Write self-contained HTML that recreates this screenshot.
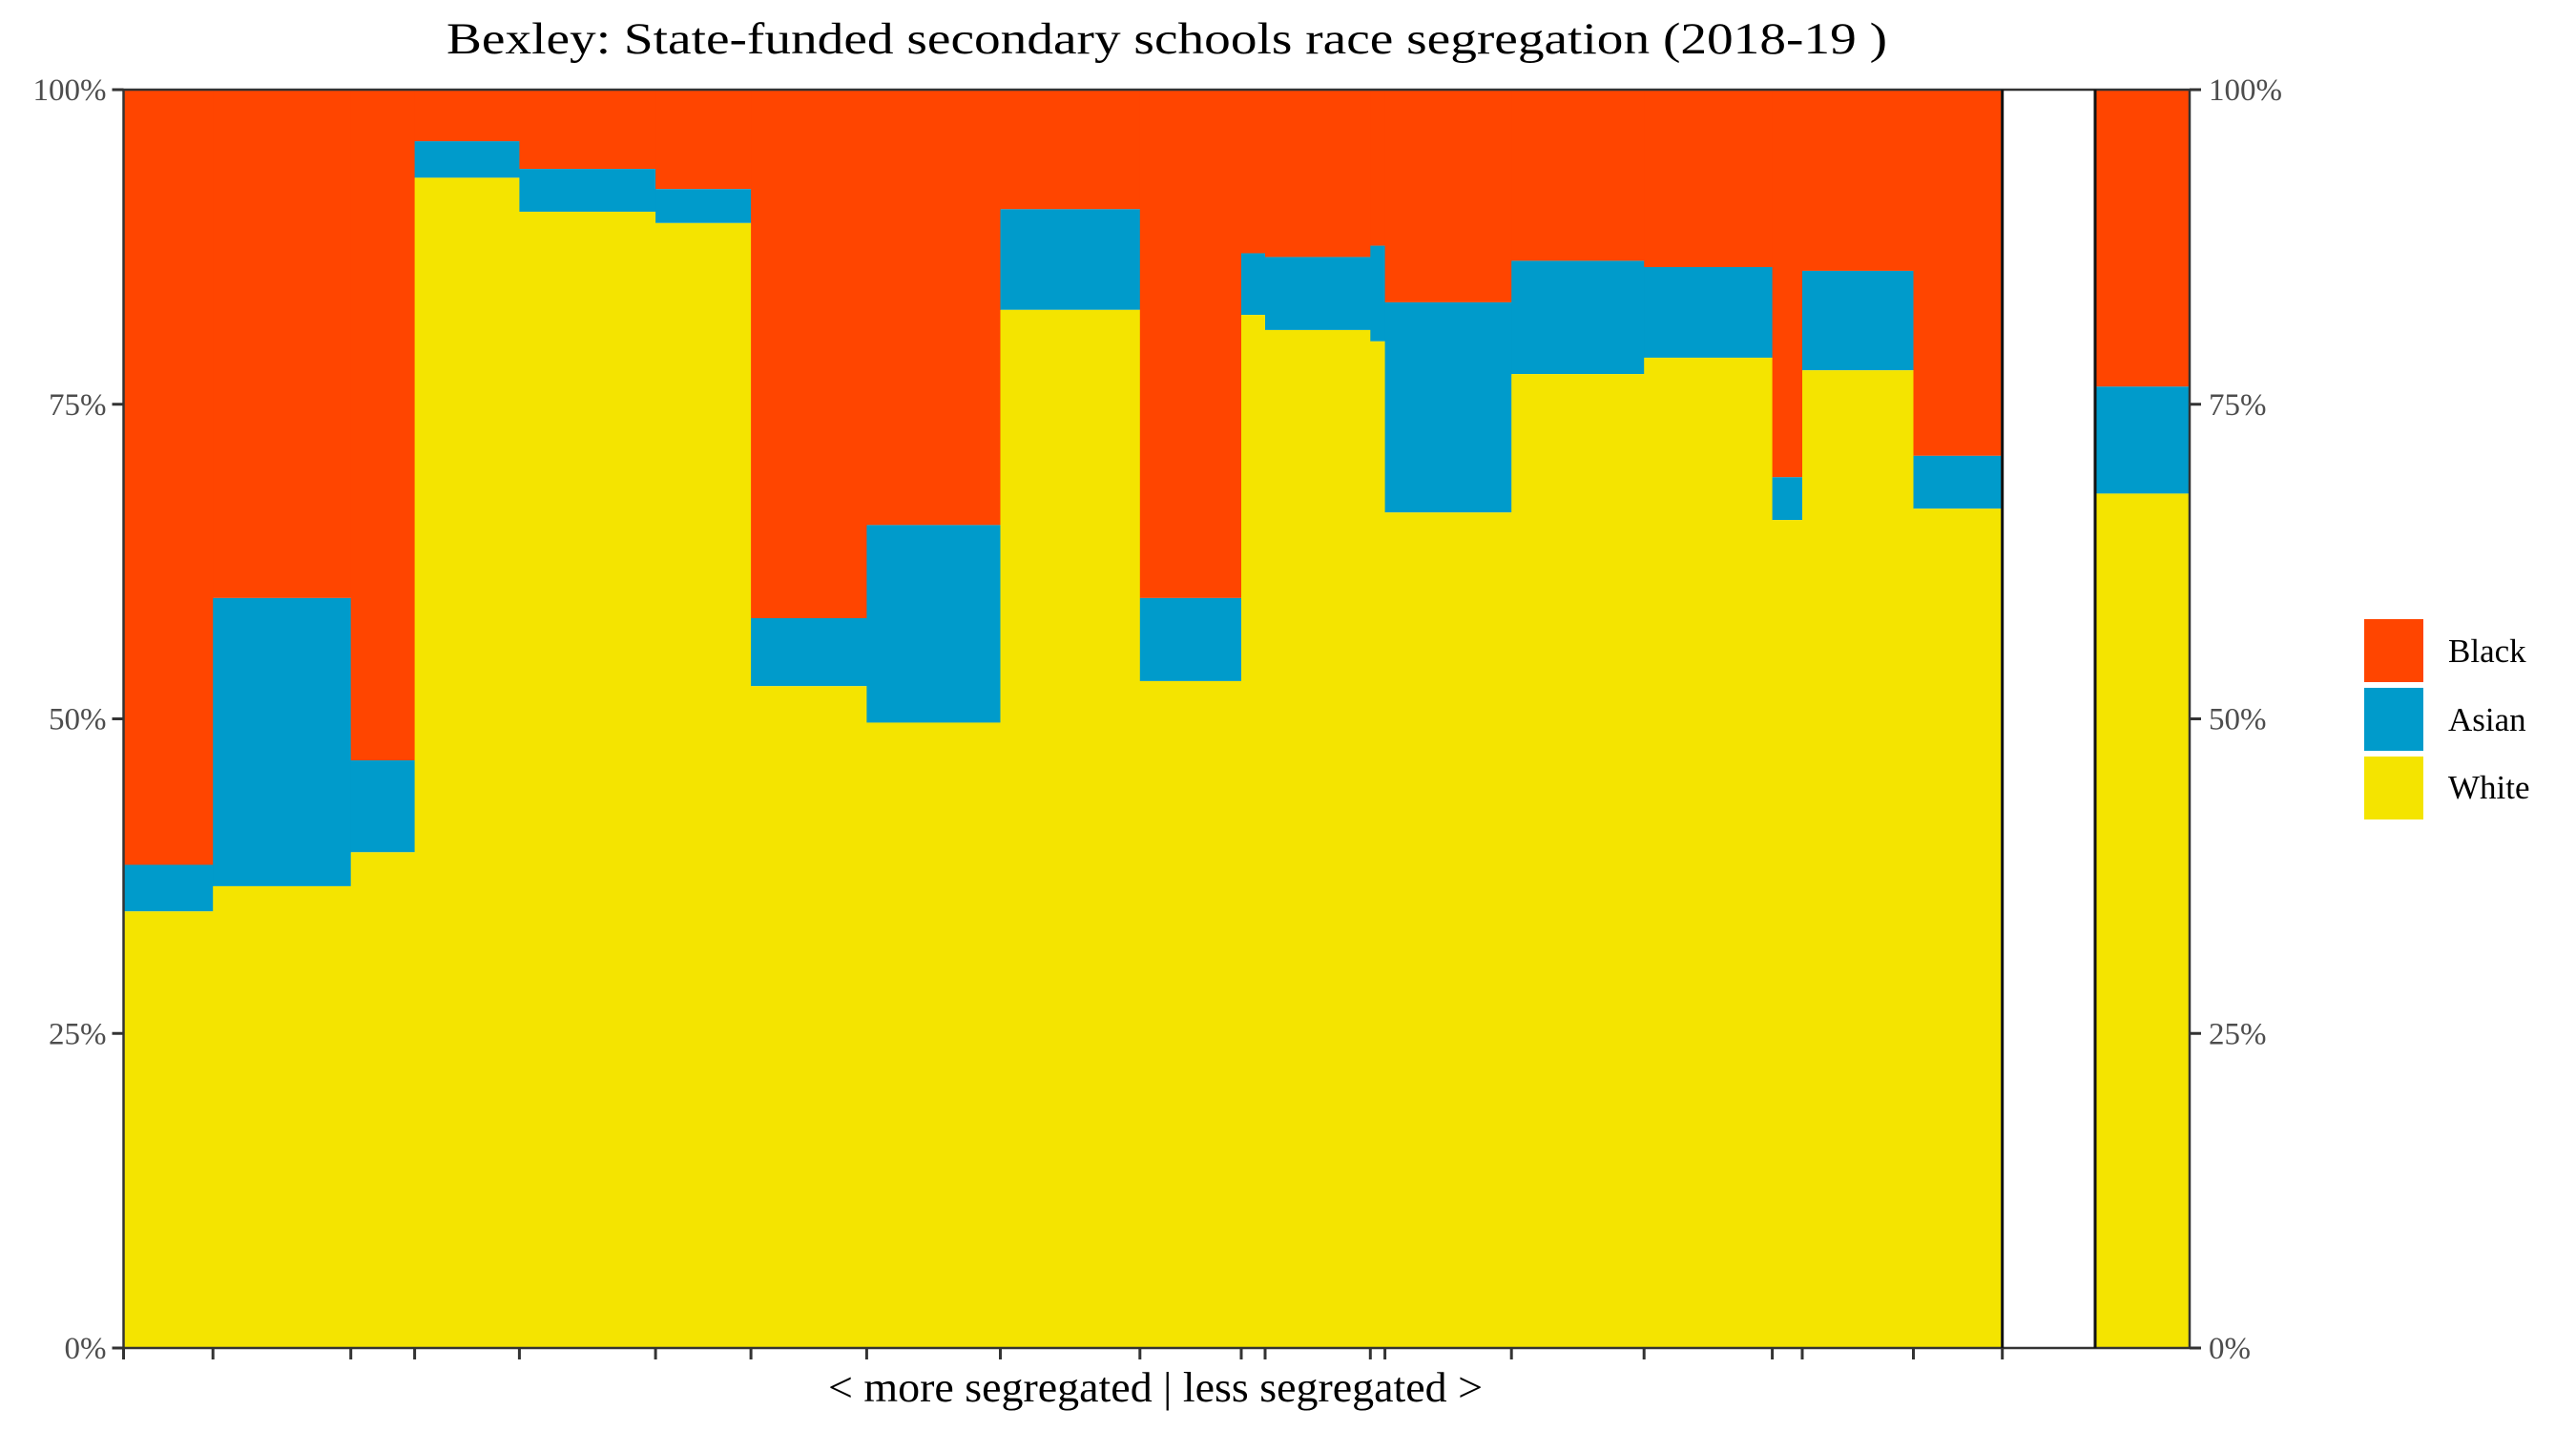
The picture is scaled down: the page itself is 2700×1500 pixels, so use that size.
<!DOCTYPE html>
<html><head><meta charset="utf-8"><title>Bexley segregation chart</title>
<style>html,body{margin:0;padding:0;background:#fff}svg{display:block}</style></head>
<body>
<svg id="chart" width="2700" height="1500" viewBox="0 0 2700 1500" xmlns="http://www.w3.org/2000/svg" font-family="'Liberation Serif', serif">
<text x="1223" y="56" font-size="47" text-anchor="middle" textLength="1510" lengthAdjust="spacingAndGlyphs" fill="#000">Bexley: State-funded secondary schools race segregation (2018-19 )</text>
<g id="plot"></g>
<text x="1211" y="1469" font-size="44" text-anchor="middle" textLength="686" lengthAdjust="spacingAndGlyphs" fill="#000">&lt; more segregated | less segregated &gt;</text>
<g>
<rect x="2478" y="649" width="62" height="66" fill="#FF4500"/>
<rect x="2478" y="721" width="62" height="66" fill="#009BCB"/>
<rect x="2478" y="793" width="62" height="66" fill="#F4E400"/>
<text x="2566" y="694" font-size="35">Black</text>
<text x="2566" y="766" font-size="35">Asian</text>
<text x="2566" y="837" font-size="35">White</text>
</g>
</svg>
<script>
// school widths (relative pupil counts), ordered more -> less segregated
const widths = [93.7,144.5,66.9,109.8,142.7,100,121.3,140.1,146.3,106.2,25,110.3,15.3,132.6,139,134.4,31.4,116.5,93.2];
const whitePct = [34.7,36.7,39.4,93.0,90.3,89.4,52.6,49.7,82.5,53.0,82.1,80.9,80.0,66.4,77.4,78.7,65.8,77.7,66.7];
const asianPct = [3.7,22.9,7.3,2.9,3.4,2.7,5.4,15.7,8.0,6.6,4.9,5.8,7.6,16.7,9.0,7.2,3.4,7.9,4.2];
const overallWhite = [67.9];
const overallAsian = [8.5];
const yTicks = [0,25,50,75,100];
const yTickLabels = ["0%","25%","50%","75%","100%"];

const NS = "http://www.w3.org/2000/svg";
const plot = document.getElementById('plot');
const L = 129.5, R = 2295, T = 94, B = 1413;
const mainRight = 2098.7, overallLeft = 2196;
const totalW = widths.reduce((a,b)=>a+b,0);
const xMain = v => L + v / totalW * (mainRight - L);
const y = v => B - v / 100 * (B - T);
function mk(tag, attrs){const e=document.createElementNS(NS,tag);for(const k in attrs)e.setAttribute(k,attrs[k]);plot.appendChild(e);return e;}

let cum = 0;
const boundaries = [0];
widths.forEach((w,i)=>{
  const x0 = xMain(cum), x1 = xMain(cum + w);
  const wv = whitePct[i], av = asianPct[i];
  const r1 = mk('rect',{x:x0,y:y(100),width:x1-x0+0.5,height:y(wv+av)-y(100),fill:'#FF4500'});
  
  
  const r2 = mk('rect',{x:x0,y:y(wv+av),width:x1-x0+0.5,height:y(wv)-y(wv+av),fill:'#009BCB'});
  
  
  const r3 = mk('rect',{x:x0,y:y(wv),width:x1-x0+0.5,height:B-y(wv),fill:'#F4E400'});
  
  
  cum += w;
  boundaries.push(cum);
});
// overall bar
{
  const x0 = overallLeft, x1 = R, wv = overallWhite[0], av = overallAsian[0];
  const o1 = mk('rect',{x:x0,y:y(100),width:x1-x0,height:y(wv+av)-y(100),fill:'#FF4500'});
  
  
  const o2 = mk('rect',{x:x0,y:y(wv+av),width:x1-x0,height:y(wv)-y(wv+av),fill:'#009BCB'});
  
  
  const o3 = mk('rect',{x:x0,y:y(wv),width:x1-x0,height:B-y(wv),fill:'#F4E400'});
  
  
}
// frame
const fr = mk('rect',{x:L,y:T,width:R-L,height:B-T,fill:'none',stroke:'#333',"stroke-width":2.5});


[mainRight, overallLeft].forEach((xv,i)=>{
  const ln = mk('line',{x1:xv,x2:xv,y1:T,y2:B,stroke:'#111',"stroke-width":3});
  
  
});
// x ticks
boundaries.forEach((b,i)=>{
  const xv = xMain(b);
  const t = mk('line',{x1:xv,x2:xv,y1:B,y2:B+12,stroke:'#333',"stroke-width":3});
  
  
});
// y ticks both sides
yTicks.forEach((v,i)=>{
  const yy = y(v);
  const tl = mk('line',{x1:L-12,x2:L,y1:yy,y2:yy,stroke:'#333',"stroke-width":3});
  
  
  const tr = mk('line',{x1:R,x2:R+12,y1:yy,y2:yy,stroke:'#333',"stroke-width":3});
  
  
  const lt = mk('text',{x:L-18,y:yy+11,"font-size":33,"text-anchor":"end",fill:'#4d4d4d'});
  lt.textContent = yTickLabels[i];
  
  
  const rt = mk('text',{x:R+20,y:yy+11,"font-size":33,"text-anchor":"start",fill:'#4d4d4d'});
  rt.textContent = yTickLabels[i];
  
  
});
</script>
</body></html>
